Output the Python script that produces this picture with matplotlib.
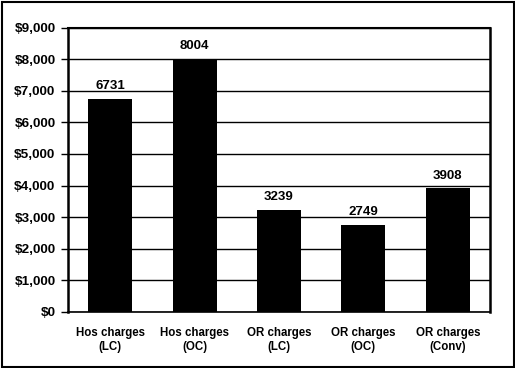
import matplotlib
matplotlib.use("Agg")
import matplotlib.pyplot as plt
from matplotlib.patches import Rectangle
from matplotlib.ticker import FuncFormatter, MultipleLocator

categories = ["Hos charges\n(LC)", "Hos charges\n(OC)", "OR charges\n(LC)",
              "OR charges\n(OC)", "OR charges\n(Conv)"]
values = [6731, 8004, 3239, 2749, 3908]
value_labels = ["6731", "8004", "3239", "2749", "3908"]

plt.rcParams["font.family"] = ["Liberation Sans", "DejaVu Sans"]

W, H = 515, 368
fig = plt.figure(figsize=(W / 100, H / 100), dpi=100)
ax = fig.add_axes([68 / W, 1 - 312 / H, (490 - 68) / W, (312 - 27.5) / H])

x = list(range(len(categories)))
ax.bar(x, values, width=0.52, color="black", zorder=3)

ax.set_xlim(-0.5, len(categories) - 0.5)
ax.set_ylim(0, 9000)
ax.yaxis.set_major_locator(MultipleLocator(1000))
ax.yaxis.set_major_formatter(FuncFormatter(lambda v, _: f"${v:,.0f}"))
ax.grid(axis="y", color="black", linewidth=1.0, zorder=0)

ax.set_xticks(x)
ax.set_xticklabels(categories, fontsize=8.3, fontweight="bold", linespacing=1.2)
ax.tick_params(axis="x", length=0, pad=11)
ax.tick_params(axis="y", length=5, width=1, labelsize=9.7, pad=4, direction="out")
for lab in ax.get_yticklabels():
    lab.set_fontweight("bold")

for s in ["left", "right", "top", "bottom"]:
    ax.spines[s].set_color("black")
ax.spines["left"].set_linewidth(1.8)
ax.spines["right"].set_linewidth(1.8)
ax.spines["top"].set_linewidth(1.5)
ax.spines["bottom"].set_linewidth(1.2)

for xi, v, t in zip(x, values, value_labels):
    ax.annotate(t, (xi, v), xytext=(0, 5), textcoords="offset points",
                ha="center", va="bottom", fontsize=9.5, fontweight="bold")

fig.patches.append(Rectangle((1.5 / W, 1.5 / H), 1 - 3 / W, 1 - 3 / H,
                             transform=fig.transFigure, fill=False,
                             edgecolor="black", linewidth=1.5))

fig.savefig("out.png", dpi=100)
